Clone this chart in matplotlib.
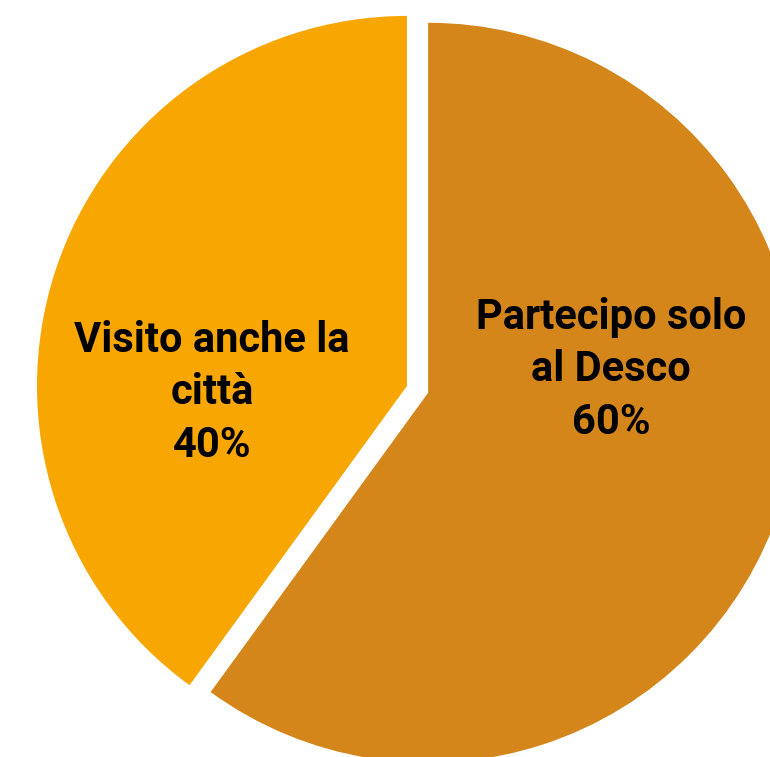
import matplotlib
matplotlib.use("Agg")
from matplotlib import pyplot as plt

LABELS = ["Partecipo solo\nal Desco", "Visito anche la\ncittà"]
SHARES = [60, 40]
COLORS = ["#D4861A", "#F8A702"]
EXPLODE = [0.06, 0.0]

fig = plt.figure(figsize=(7.70, 7.57), dpi=100)
ax = fig.add_axes([0, 0, 1, 1])

ax.pie(
    SHARES,
    colors=COLORS,
    explode=EXPLODE,
    startangle=90,
    counterclock=False,
    radius=1.0,
)

# labels with the share underneath, placed inside each slice
positions = [(0.551, 0.043), (-0.527, -0.018)]
for label, share, (x, y) in zip(LABELS, SHARES, positions):
    ax.text(
        x, y, f"{label}\n{share}%",
        ha="center", va="center",
        fontsize=30, fontweight="bold",
        family=["Roboto", "DejaVu Sans"],
        linespacing=1.36, color="black",
    )

# the pie runs past the right and bottom edges
ax.set_xlim(-1.1, 0.981)
ax.set_ylim(-1.003, 1.043)
ax.set_aspect("auto")
ax.axis("off")

fig.savefig("out.png", dpi=100)
